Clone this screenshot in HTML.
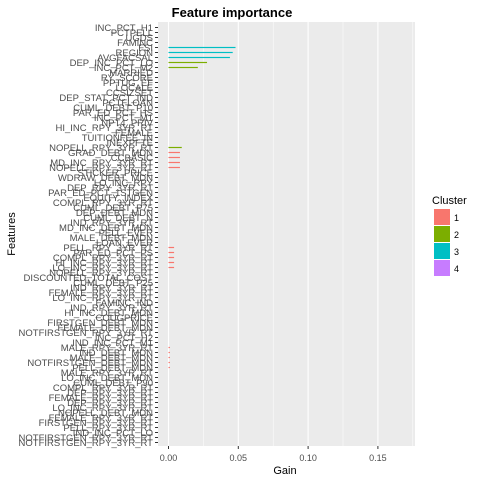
<!DOCTYPE html>
<html><head><meta charset="utf-8"><style>
body{margin:0;background:#fff;}
svg{font-family:"Liberation Sans",sans-serif;}
</style></head><body>
<svg id="c" width="480" height="480" xmlns="http://www.w3.org/2000/svg"></svg>
<script>
const features=["INC_PCT_H1","PCTPELL","UGDS","FAMINC","FSI","REGION","AVGFACSAL","DEP_INC_PCT_LO","INC_PCT_M2","MARRIED","RY_SCORE","PPTUG_EF","LOCALE","CCSIZSET","DEP_STAT_PCT_IND","PCTFLOAN","CUML_DEBT_P10","PAR_ED_PCT_HS","INC_PCT_M1","NPT4_PRIV","HI_INC_RPY_3YR_RT","FEMALE","TUITIONFEE_IN","INEXPFTE","NOPELL_RPY_3YR_RT","GRAD_DEBT_MDN","CCBASIC","MD_INC_RPY_3YR_RT","NOPELL_RPY_3YR_RT","STICKER_PRICE","WDRAW_DEBT_MDN","LO_INC_RPY","DEP_RPY_3YR_RT","PAR_ED_PCT_1STGEN","EQUITY_INDEX","COMPL_RPY_3YR_RT","CUML_DEBT_P75","DEP_DEBT_MDN","CUML_DEBT_N","IND_RPY_3YR_RT","MD_INC_DEBT_MDN","PELL_EVER","MALE_DEBT_MDN","LOAN_EVER","PELL_RPY_3YR_RT","PAR_ED_PCT_PS","COMPL_RPY_3YR_RT","HI_INC_RPY_3YR_RT","LO_INC_RPY_3YR_RT","NOPELL_RPY_3YR_RT","DISCOUNTED_TOTAL_COST","CUML_DEBT_P25","IND_RPY_3YR_RT","FEMALE_RPY_3YR_RT","LO_INC_RPY_3YR_RT","FAMINC_IND","IND_RPY_3YR_RT","HI_INC_DEBT_MDN","COUGPRICE","FIRSTGEN_DEBT_MDN","FEMALE_DEBT_MDN","NOTFIRSTGEN_RPY_3YR_RT","INC_PCT_H2","IND_INC_PCT_M1","MALE_RPY_3YR_RT","IND_DEBT_MDN","MALE_DEBT_MDN","NOTFIRSTGEN_DEBT_MDN","PELL_DEBT_MDN","MALE_RPY_3YR_RT","LO_INC_DEBT_MDN","CUML_DEBT_P90","COMPL_RPY_3YR_RT","DEP_RPY_3YR_RT","FEMALE_RPY_3YR_RT","DEP_RPY_3YR_RT","LO_INC_RPY_3YR_RT","NOPELL_DEBT_MDN","FEMALE_RPY_3YR_RT","FIRSTGEN_RPY_3YR_RT","PELL_RPY_3YR_RT","IND_INC_PCT_LO","NOTFIRSTGEN_RPY_3YR_RT","NOTFIRSTGEN_RPY_3YR_RT"];
const barRows=[4,5,6,7,8,24,25,26,27,28,44,45,46,47,48,64,65,66,67,68];
const barGain=[0.048,0.046,0.044,0.0276,0.021,0.0095,0.0082,0.0082,0.0082,0.0082,0.004,0.004,0.004,0.004,0.004,0.001,0.001,0.001,0.001,0.001];
const barCluster=[3,3,3,2,2,2,1,1,1,1,1,1,1,1,1,1,1,1,1,1];
const xTicks=[0,0.05,0.10,0.15];
const xTickLabels=["0.00","0.05","0.10","0.15"];
const clusters=["1","2","3","4"];
const colors=["#F8766D","#7CAE00","#00BFC4","#C77CFF"];

const svg=document.getElementById('c');
const NS="http://www.w3.org/2000/svg";
function mk(t,a,p){const e=document.createElementNS(NS,t);for(const k in a)e.setAttribute(k,a[k]);(p||svg).appendChild(e);return e;}
const px0=158,px1=415,py0=22,py1=446;
const x=v=>168.5+v*1396;
const y=i=>27.5+i*5;

let e=mk('rect',{x:px0,y:py0,width:px1-px0,height:py1-py0,fill:"#EBEBEB"});

[0.025,0.075,0.125,0.175].forEach(v=>{if(x(v)<px1){const l=mk('line',{x1:x(v),x2:x(v),y1:py0,y2:py1,stroke:"#fff","stroke-width":0.5});
}});
xTicks.forEach((v,i)=>{const l=mk('line',{x1:x(v),x2:x(v),y1:py0,y2:py1,stroke:"#fff","stroke-width":1.1});

const t=mk('line',{x1:x(v),x2:x(v),y1:py1,y2:py1+3,stroke:"#333"});

const tx=mk('text',{x:x(v),y:461,"font-size":"9","text-anchor":"middle",fill:"#4D4D4D"});tx.textContent=xTickLabels[i];
});
features.forEach((f,i)=>{const t=mk('line',{x1:px0-3,x2:px0,y1:y(i),y2:y(i),stroke:"#333"});

const tx=mk('text',{x:px0-5,y:y(i)+3.3,"font-size":"9.5","text-anchor":"end",fill:"#4D4D4D"});tx.textContent=f;
});
barRows.forEach((r,i)=>{const b=mk('rect',{x:x(0),y:y(r)-0.6,width:Math.max(0.5,x(barGain[i])-x(0)),height:1.2,fill:colors[barCluster[i]-1]});
});
e=mk('text',{x:232,y:17,"font-size":"13","font-weight":"bold","text-anchor":"middle",fill:"#000"});e.textContent="Feature importance";

e=mk('text',{x:285,y:474,"font-size":"11","text-anchor":"middle",fill:"#000"});e.textContent="Gain";

e=mk('text',{x:15,y:234,"font-size":"11","text-anchor":"middle",fill:"#000",transform:"rotate(-90 15 234)"});e.textContent="Features";

e=mk('text',{x:432,y:204,"font-size":"11",fill:"#000"});e.textContent="Cluster";

clusters.forEach((c,i)=>{const r=mk('rect',{x:434,y:209+i*17,width:16,height:16,fill:colors[i]});

const t=mk('text',{x:454,y:221+i*17,"font-size":"9",fill:"#000"});t.textContent=c;
});
</script>
</body></html>
